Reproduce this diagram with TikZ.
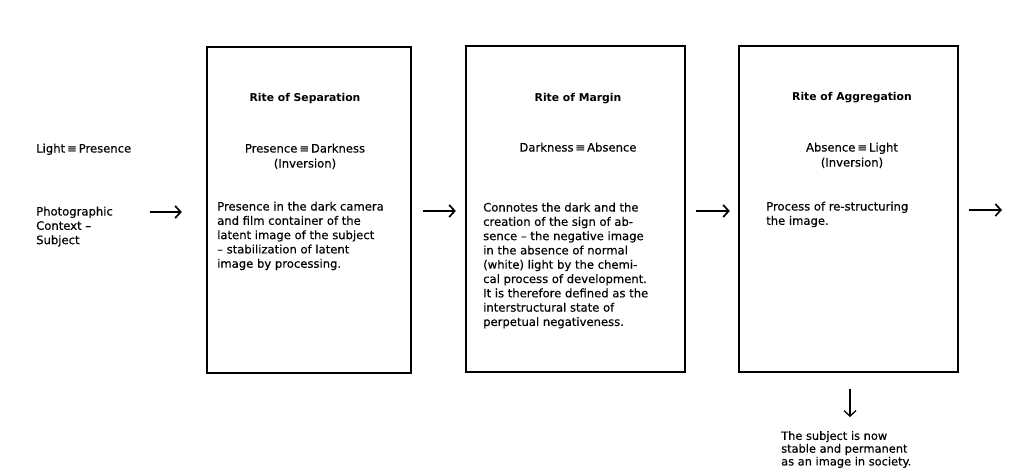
\documentclass[tikz,border=0pt]{standalone}
\usepackage{fontspec}
\setmainfont{DejaVu Sans}
\newfontfamily\bodyfont{DejaVu Sans}[FakeBold=0.35]
\usetikzlibrary{arrows.meta}
\tikzset{
  box/.style={draw, line width=2.3pt, minimum width=219pt, minimum height=326pt, inner sep=0pt},
  body/.style={inner sep=0pt, align=left, font=\bodyfont\fontsize{11.6}{14.3}\selectfont},
  title/.style={inner sep=0pt, font=\bfseries\fontsize{10.8}{13}\selectfont},
  eqn/.style={inner sep=0pt, align=center, font=\bodyfont\fontsize{11.6}{15}\selectfont},
  arr/.style={line width=1.7pt, -{Straight Barb[length=5.5pt,width=12pt]}},
}
\begin{document}
\begin{tikzpicture}[x=1pt,y=-1pt]
\useasboundingbox (0,0) rectangle (1013,473);
% boxes
\node[box, minimum width=204pt] (b1) at (309,210) {};
\node[box] (b2) at (575.5,209) {};
\node[box] (b3) at (848.5,209) {};
% left texts
\node[body, anchor=north west] (lp) at (36,143.5) {Light\,≡\,Presence};
\node[body, anchor=north west] (ctx) at (36,206.5) {Photographic\\Context –\\Subject};
% box 1
\node[title, anchor=base] (t1) at (305,102) {Rite of Separation};
\node[eqn, anchor=north] (e1) at (305,143.5) {Presence\,≡\,Darkness\\(Inversion)};
\node[body, anchor=north west] (p1) at (217,201.5) {Presence in the dark camera\\and film container of the\\latent image of the subject\\– stabilization of latent\\image by processing.};
% box 2
\node[title, anchor=base] (t2) at (578,102) {Rite of Margin};
\node[eqn, anchor=north] (e2) at (578,142.5) {Darkness\,≡\,Absence};
\node[body, anchor=north west] (p2) at (483,202.5) {Connotes the dark and the\\creation of the sign of ab-\\sence – the negative image\\in the absence of normal\\(white) light by the chemi-\\cal process of development.\\It is therefore defined as the\\interstructural state of\\perpetual negativeness.};
% box 3
\node[title, anchor=base] (t3) at (852,101) {Rite of Aggregation};
\node[eqn, anchor=north] (e3) at (852,142.5) {Absence\,≡\,Light\\(Inversion)};
\node[body, anchor=north west] (p3) at (766,201.5) {Process of re-structuring\\the image.};
% result
\node[body, anchor=north west, font=\bodyfont\fontsize{11.4}{12.8}\selectfont] (res) at (781,431) {The subject is now\\stable and permanent\\as an image in society.};
% connectors
\coordinate (a0) at (150,212);
\coordinate (aend) at (1002,210);
\draw[arr, shorten >=24pt] (a0) -- (a0 -| b1.west);
\draw[arr, shorten <=11pt, shorten >=9pt] (b1.east |- 0,211) -- (b2.west |- 0,211);
\draw[arr, shorten <=10pt, shorten >=8pt] (b2.east |- 0,211) -- (b3.west |- 0,211);
\draw[arr, shorten <=10pt] (b3.east |- aend) -- (aend);
\draw[arr, line width=1.3pt, shorten <=16pt, shorten >=14pt] (b3.south -| 850,0) -- (850,0 |- res.north);
\end{tikzpicture}
\end{document}
